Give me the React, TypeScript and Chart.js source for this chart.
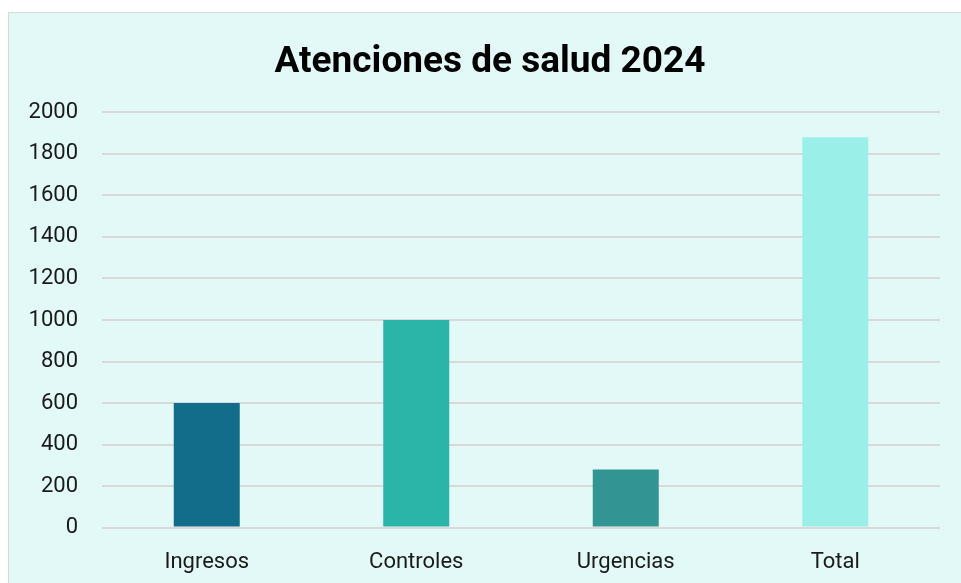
import React, { useEffect, useRef } from "react";
import { Chart, registerables } from "chart.js";

Chart.register(...registerables);

const categories = ["Ingresos", "Controles", "Urgencias", "Total"];
const values = [600, 1000, 280, 1880];
const barColors = ["#126d8a", "#2bb5a8", "#329594", "#9af0e8"];
const yTicks = [0, 200, 400, 600, 800, 1000, 1200, 1400, 1600, 1800, 2000];
const title = "Atenciones de salud 2024";

const titleShift = {
  id: "titleShift",
  afterLayout(chart: any) {
    const tb = chart.titleBlock;
    if (tb) {
      tb.left += 9.5;
      tb.right += 9.5;
    }
  },
};

export default function App() {
  const ref = useRef<HTMLCanvasElement>(null);
  useEffect(() => {
    if (!ref.current) return;
    const chart = new Chart(ref.current, {
      type: "bar",
      data: {
        labels: categories,
        datasets: [
          {
            data: values,
            backgroundColor: barColors,
            borderWidth: 0,
            categoryPercentage: 1,
            barPercentage: 0.315,
          },
        ],
      },
      plugins: [titleShift],
      options: {
        animation: false,
        responsive: false,
        maintainAspectRatio: false,
        layout: { padding: { left: 12, right: 31, top: 28, bottom: 1 } },
        plugins: {
          legend: { display: false },
          tooltip: { enabled: false },
          title: {
            display: true,
            text: title,
            color: "#000",
            font: { family: "Roboto", size: 37, weight: "bold" },
            padding: { top: 0, bottom: 27 },
          },
        },
        scales: {
          x: {
            grid: { display: false },
            border: { display: false },
            ticks: {
              color: "#1a1a1a",
              font: { family: "Roboto", size: 22, weight: "normal" },
              padding: 14,
            },
          },
          y: {
            min: 0,
            max: 2000,
            afterBuildTicks: (axis: any) => {
              axis.ticks = yTicks.map((v) => ({ value: v }));
            },
            afterFit: (axis: any) => {
              axis.width = 81;
            },
            grid: { color: "#d9d9d9", lineWidth: 2, drawTicks: false },
            border: { display: false },
            ticks: {
              color: "#1a1a1a",
              font: { family: "Roboto", size: 22, weight: "normal" },
              padding: 24,
              callback: (v: any) => String(v),
            },
          },
        },
      },
    });
    return () => chart.destroy();
  }, []);
  return (
    <div
      style={{
        position: "fixed",
        left: 8,
        top: 12,
        width: 964,
        height: 580,
        background: "#e3f9f8",
        border: "1px solid #d9d9d9",
        boxSizing: "border-box",
      }}
    >
      <canvas ref={ref} width={962} height={578} style={{ display: "block" }} />
    </div>
  );
}
